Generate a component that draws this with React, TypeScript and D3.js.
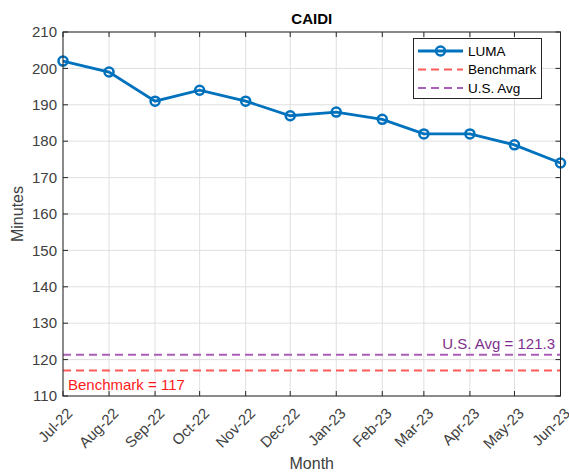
import React from "react";
import * as d3 from "d3";

const months = ["Jul-22","Aug-22","Sep-22","Oct-22","Nov-22","Dec-22","Jan-23","Feb-23","Mar-23","Apr-23","May-23","Jun-23"];
const monthDates = [
  new Date(2022,6,1), new Date(2022,7,1), new Date(2022,8,1), new Date(2022,9,1),
  new Date(2022,10,1), new Date(2022,11,1), new Date(2023,0,1), new Date(2023,1,1),
  new Date(2023,2,1), new Date(2023,3,1), new Date(2023,4,1), new Date(2023,5,1)
];
const lumaValues = [202,199,191,194,191,187,188,186,182,182,179,174];
const benchmark = 117;
const usAvg = 121.3;
const yTicks = [110,120,130,140,150,160,170,180,190,200,210];

const W = 569, H = 472;
const L = 63, R = 560.5, T = 32, B = 396;
const font = "'Liberation Sans', Arial, Helvetica, sans-serif";

export default function App() {
  const x = d3.scaleTime().domain([monthDates[0], monthDates[monthDates.length-1]]).range([L, R]);
  const y = d3.scaleLinear().domain([110, 210]).range([B, T]);
  const line = d3.line<number>().x((_, i) => x(monthDates[i])).y(d => y(d));
  const axisColor = "#262626";
  const tickColor = "#404040";
  return (
    <svg width={W} height={H} style={{position:"absolute", left:0, top:0, background:"#fff"}} fontFamily={font}>
      <rect x={0} y={0} width={W} height={H} fill="#fff" />
      {/* grid */}
      {monthDates.map((d,i) => (
        <line key={"gx"+i} x1={x(d)} x2={x(d)} y1={T} y2={B} stroke="#dfdfdf" strokeWidth={1} />
      ))}
      {yTicks.map((t,i) => (
        <line key={"gy"+i} x1={L} x2={R} y1={y(t)} y2={y(t)} stroke="#dfdfdf" strokeWidth={1} />
      ))}
      {/* reference lines */}
      <line x1={L} x2={R} y1={y(usAvg)} y2={y(usAvg)} stroke="#a95fb8" strokeWidth={2} strokeDasharray="8,5" />
      <line x1={L} x2={R} y1={y(benchmark)} y2={y(benchmark)} stroke="#ff5a5a" strokeWidth={2} strokeDasharray="8,5" />
      <text x={555} y={y(usAvg)-6} textAnchor="end" fontSize={15} fill="#7e2f8e">U.S. Avg = 121.3</text>
      <text x={68} y={y(benchmark)+19} fontSize={15} fill="#ff1a1a">Benchmark = 117</text>
      {/* data line */}
      <path d={line(lumaValues) || ""} fill="none" stroke="#0072bd" strokeWidth={2.8} />
      {lumaValues.map((v,i) => (
        <circle key={"p"+i} cx={x(monthDates[i])} cy={y(v)} r={4.5} fill="none" stroke="#0072bd" strokeWidth={2.5} />
      ))}
      {/* box */}
      <rect x={L} y={T} width={R-L} height={B-T} fill="none" stroke={axisColor} strokeWidth={1} />
      {/* ticks */}
      {monthDates.map((d,i) => (
        <g key={"tx"+i}>
          <line x1={x(d)} x2={x(d)} y1={B} y2={B-5} stroke={axisColor} />
          <line x1={x(d)} x2={x(d)} y1={T} y2={T+5} stroke={axisColor} />
          <text transform={`translate(${x(d)+3},${B+11}) rotate(-45)`} textAnchor="end" dy="0.7em" fontSize={15} fill={tickColor}>{months[i]}</text>
        </g>
      ))}
      {yTicks.map((t,i) => (
        <g key={"ty"+i}>
          <line x1={L} x2={L+5} y1={y(t)} y2={y(t)} stroke={axisColor} />
          <line x1={R} x2={R-5} y1={y(t)} y2={y(t)} stroke={axisColor} />
          <text x={L-6} y={y(t)} dy="0.35em" textAnchor="end" fontSize={15} fill={tickColor}>{t}</text>
        </g>
      ))}
      {/* titles */}
      <text x={(L+R)/2} y={24} textAnchor="middle" fontSize={15} fontWeight="bold" fill="#000">CAIDI</text>
      <text x={(L+R)/2} y={469} textAnchor="middle" fontSize={16} fill={tickColor}>Month</text>
      <text transform={`translate(23,${(T+B)/2}) rotate(-90)`} textAnchor="middle" fontSize={16} fill={tickColor}>Minutes</text>
      {/* legend */}
      <rect x={413.5} y={38.5} width={128} height={60} fill="#fff" stroke={axisColor} strokeWidth={1} />
      <line x1={418} x2={463} y1={51} y2={51} stroke="#0072bd" strokeWidth={2.8} />
      <circle cx={440.5} cy={51} r={4.5} fill="none" stroke="#0072bd" strokeWidth={2.5} />
      <text x={468} y={51} dy="0.35em" fontSize={13.5} fill="#000">LUMA</text>
      <line x1={418} x2={463} y1={69.5} y2={69.5} stroke="#ff5a5a" strokeWidth={2} strokeDasharray="8,5" />
      <text x={468} y={69.5} dy="0.35em" fontSize={13.5} fill="#000">Benchmark</text>
      <line x1={418} x2={463} y1={88} y2={88} stroke="#a95fb8" strokeWidth={2} strokeDasharray="8,5" />
      <text x={468} y={88} dy="0.35em" fontSize={13.5} fill="#000">U.S. Avg</text>
    </svg>
  );
}
